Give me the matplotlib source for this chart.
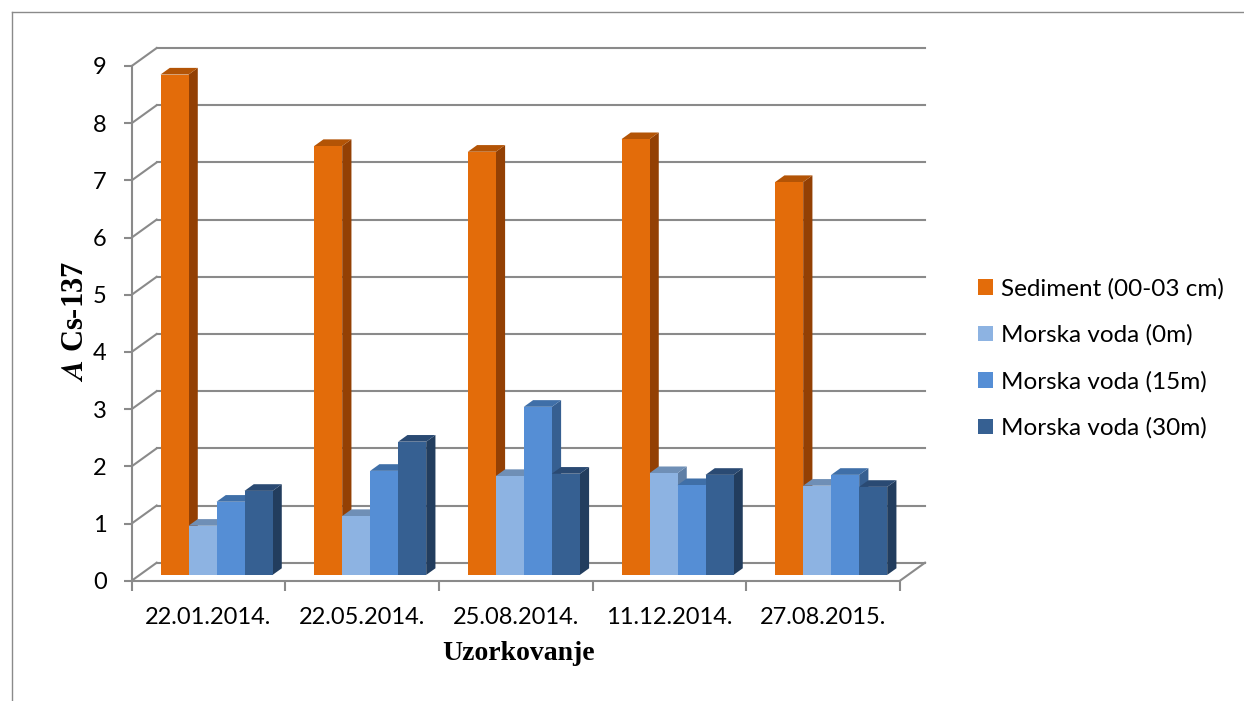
import matplotlib
matplotlib.use('Agg')
import matplotlib.pyplot as plt
from matplotlib.patches import Polygon
from matplotlib.lines import Line2D

# Cs-137 activity per sampling date
categories = ['22.01.2014.', '22.05.2014.', '25.08.2014.', '11.12.2014.', '27.08.2015.']
series_names = ['Sediment (00-03 cm)', 'Morska voda (0m)', 'Morska voda (15m)', 'Morska voda (30m)']
sediment = [8.75, 7.50, 7.40, 7.62, 6.87]
voda_0m = [0.86, 1.03, 1.73, 1.78, 1.56]
voda_15m = [1.28, 1.82, 2.94, 1.57, 1.75]
voda_30m = [1.47, 2.33, 1.77, 1.75, 1.54]
y_ticks = list(range(10))

# front, side, top colours of each series
front_cols = ['#e36c0a', '#8db3e2', '#558ed5', '#366092']
side_cols = ['#934004', '#5f7fa6', '#365f91', '#223d5e']
top_cols = ['#b35406', '#6f8fb6', '#3f6fa8', '#2a4a73']

plt.rcParams['font.family'] = ['Lato', 'DejaVu Sans']
plt.rcParams['mathtext.fontset'] = 'stix'

W, H = 1244, 701
fig = plt.figure(figsize=(W / 100, H / 100), dpi=100)

# axes placed so the front plane matches the picture (pixels)
x0, x1 = 131.7, 900.0
y0, y9 = 580.7, 66.0
ax = fig.add_axes([x0 / W, 1 - y0 / H, (x1 - x0) / W, (y0 - y9) / H])
ax.set_xlim(0, 5)
ax.set_ylim(0, 9)
ax.patch.set_visible(False)

# depth of the floor in data units
DX = 25 / ((x1 - x0) / 5)
DY = 18 / ((y0 - y9) / 9)
grid_col = '#8a8a8a'

for v in y_ticks:
    ax.plot([DX, 5 + DX], [v + DY, v + DY], color=grid_col, lw=1.5, zorder=1, clip_on=False)
    ax.plot([0, DX], [v, v + DY], color=grid_col, lw=1.5, zorder=1, clip_on=False)
ax.plot([5, 5 + DX], [0, DY], color=grid_col, lw=1.5, zorder=1, clip_on=False)

for s in ['top', 'right']:
    ax.spines[s].set_visible(False)
for s in ['left', 'bottom']:
    ax.spines[s].set_color(grid_col)
    ax.spines[s].set_linewidth(1.5)

ax.set_yticks(y_ticks)
ax.tick_params(axis='y', length=6, width=1.5, color=grid_col, labelsize=17, pad=12)
ax.set_xticks([i + 0.5 for i in range(5)])
ax.set_xticklabels(categories)
ax.set_xticks(range(6), minor=True)
ax.tick_params(axis='x', which='major', length=0, labelsize=17, pad=19)
ax.tick_params(axis='x', which='minor', length=7, width=1.5, color=grid_col)

ax.set_xlabel('Uzorkovanje', fontfamily='Liberation Serif', fontweight='bold', fontsize=20, va='top')
ax.xaxis.set_label_coords(0.504, -0.118)
ax.set_ylabel(r'$\mathbfit{A}$ Cs-137', fontfamily='Liberation Serif', fontweight='bold', fontsize=22, va='center')
ax.yaxis.set_label_coords(-0.073, 0.503)

# 3D-looking columns
all_series = [sediment, voda_0m, voda_15m, voda_30m]
bw = 28 / ((x1 - x0) / 5)
f0 = 0.32   # depth position of the front face
fd = 0.37   # column depth
sdx, sdy = fd * DX, fd * DY
base = f0 * DY
handles = []
z = 3
for g in range(len(categories)):
    left0 = g + 0.5 - 2 * bw + f0 * DX
    for s, vals in enumerate(all_series):
        v = vals[g]
        xl = left0 + s * bw
        xr = xl + bw
        top = base + v
        ax.add_patch(Polygon([(xr, base), (xr + sdx, base + sdy), (xr + sdx, top + sdy), (xr, top)],
                             closed=True, facecolor=side_cols[s], edgecolor='none', zorder=z, clip_on=False))
        ax.add_patch(Polygon([(xl, top), (xl + sdx, top + sdy), (xr + sdx, top + sdy), (xr, top)],
                             closed=True, facecolor=top_cols[s], edgecolor='none', zorder=z, clip_on=False))
        b = ax.bar(xl, v, width=bw, bottom=base, align='edge', color=front_cols[s],
                   edgecolor='none', zorder=z + 0.5, clip_on=False)
        if g == 0:
            handles.append(b)
        z += 1

fig.legend(handles, series_names, loc='upper left', bbox_to_anchor=(956 / W, 1 - 256 / H),
           frameon=False, fontsize=17.5, handlelength=0.62, handleheight=0.62,
           handletextpad=0.33, labelspacing=1.03)

# outer chart border
fig.add_artist(Line2D([12 / W, 1], [1 - 12 / H, 1 - 12 / H], color=grid_col, lw=1))
fig.add_artist(Line2D([12 / W, 12 / W], [0, 1 - 12 / H], color=grid_col, lw=1))

fig.savefig('out.png', dpi=100)
